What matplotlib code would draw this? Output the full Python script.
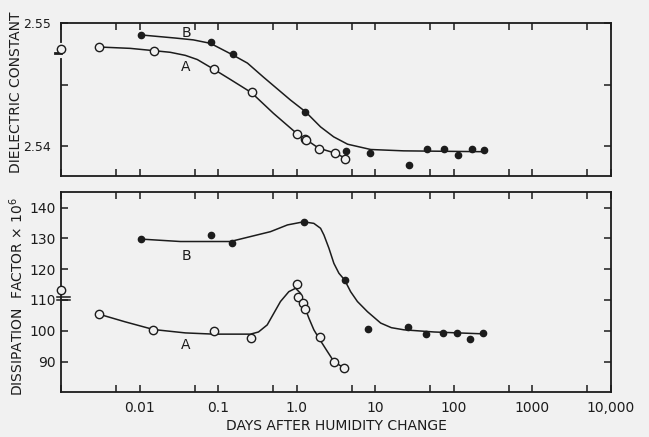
import matplotlib
matplotlib.use("Agg")
import matplotlib.pyplot as plt
from matplotlib.ticker import FixedLocator, NullFormatter

bg = "#f1f1f1"
ink = "#1c1c1c"

# dielectric constant: measured points
diel_a_days = [0.00305, 0.01535, 0.0895, 0.267, 1.02, 1.27, 1.30, 1.91, 3.06, 4.16]
diel_a_vals = [2.5481, 2.54777, 2.54625, 2.54438, 2.54098, 2.54057, 2.5405, 2.53981, 2.53945, 2.53894]
diel_b_days = [0.0105, 0.0813, 0.153, 1.27, 4.19, 8.57, 27.2, 45.3, 75.3, 112.5, 168, 241.6]
diel_b_vals = [2.54907, 2.54845, 2.54747, 2.54277, 2.53962, 2.53941, 2.53843, 2.53981,
               2.53981, 2.5393, 2.53973, 2.53967]
diel_start = 2.5479

# dielectric constant: hand-drawn curves
diel_a_curve_days = [0.00305, 0.00759, 0.01535, 0.02455, 0.0382, 0.0543, 0.0869, 0.143,
                     0.265, 0.506, 1.023, 1.294, 1.90, 3.03, 4.19]
diel_a_curve_vals = [2.54807, 2.54796, 2.54777, 2.54764, 2.54739, 2.54705, 2.54628, 2.54543,
                     2.54436, 2.54267, 2.54098, 2.54057, 2.53984, 2.53945, 2.53902]
diel_b_curve_days = [0.0105, 0.0284, 0.0483, 0.0796, 0.152, 0.236, 0.377, 0.834, 1.294,
                     2.01, 2.95, 4.44, 8.74, 23.0, 241.5]
diel_b_curve_vals = [2.54905, 2.5488, 2.54865, 2.54837, 2.54744, 2.54676, 2.54562, 2.54375,
                     2.5428, 2.54157, 2.54076, 2.54016, 2.53973, 2.53962, 2.53955]

# dissipation factor x 10^6: measured points
diss_a_days = [0.00303, 0.0150, 0.0877, 0.26, 1.01, 1.045, 1.21, 1.27, 1.95, 2.97, 3.99]
diss_a_vals = [105.4, 100.4, 100.0, 97.8, 115.1, 111.1, 109.0, 107.1, 98.0, 89.7, 87.9]
diss_b_days = [0.0103, 0.080, 0.150, 1.23, 4.07, 8.17, 26.1, 44, 73, 110, 160, 232]
diss_b_vals = [129.8, 131.1, 128.5, 135.3, 116.5, 100.5, 101.3, 99.1, 99.4, 99.4, 97.4, 99.4]
diss_start = 113.3

# dissipation factor: hand-drawn curves
diss_a_curve_days = [0.00303, 0.00655, 0.01503, 0.0382, 0.0877, 0.258, 0.326, 0.421, 0.621,
                     0.793, 0.966, 1.117, 1.233, 1.427, 1.652, 1.913, 2.45, 2.97, 3.99]
diss_a_curve_vals = [105.4, 102.9, 100.4, 99.3, 98.9, 98.9, 99.6, 101.9, 109.5,
                     112.7, 113.8, 112.2, 108.4, 104.1, 100.3, 97.6, 93.3, 90.0, 87.9]
diss_b_curve_days = [0.0102, 0.033, 0.143, 0.463, 0.764, 1.222, 1.65, 2.01, 2.22, 2.57,
                     2.97, 3.44, 4.07, 4.85, 5.92, 7.94, 11.7, 16, 23.2, 56.1, 232]
diss_b_curve_vals = [129.8, 129.0, 129.0, 132.2, 134.4, 135.4, 134.9, 133.3, 131.1, 126.8,
                     121.9, 118.7, 116.5, 112.7, 109.5, 106.2, 102.5, 101.0, 100.3, 99.6, 99.0]

major_days = [0.001, 0.01, 0.1, 1, 10, 100, 1000, 10000]
minor_days = [0.005, 0.05, 0.5, 5, 50, 500, 5000]
day_labels = ["", "0.01", "0.1", "1.0", "10", "100", "1000", "10,000"]

plt.rcParams["font.family"] = "DejaVu Sans"
plt.rcParams["font.size"] = 10

fig = plt.figure(figsize=(6.49, 4.37), dpi=100, facecolor=bg)
ax1 = fig.add_axes([0.094, 0.598, 0.8475, 0.3487], facecolor=bg)
ax2 = fig.add_axes([0.094, 0.1023, 0.8475, 0.4577], facecolor=bg)

for ax in (ax1, ax2):
    ax.set_xscale("log")
    ax.set_xlim(0.001, 10000)
    ax.xaxis.set_major_locator(FixedLocator(major_days))
    ax.xaxis.set_minor_locator(FixedLocator(minor_days))
    ax.xaxis.set_minor_formatter(NullFormatter())
    ax.tick_params(which="both", direction="in", top=True, right=True,
                   length=5, width=1.1, color=ink, labelcolor=ink)
    for s in ax.spines.values():
        s.set_linewidth(1.3)
        s.set_color(ink)

ax1.set_xticklabels([])
ax2.set_xticklabels(day_labels)
ax2.tick_params(axis="x", pad=6)

# top panel
ax1.set_ylim(2.5376, 2.55)
ax1.set_yticks([2.54, 2.545, 2.55])
ax1.set_yticklabels(["2.54", "", "2.55"])
ax1.tick_params(axis="y", pad=7, labelsize=9)
ax1.plot(diel_a_curve_days, diel_a_curve_vals, color=ink, lw=1.1, zorder=2)
ax1.plot(diel_b_curve_days, diel_b_curve_vals, color=ink, lw=1.1, zorder=2)
ax1.plot(diel_a_days, diel_a_vals, "o", ms=6, mfc=bg, mec=ink, mew=1.0, zorder=3)
ax1.plot(diel_b_days, diel_b_vals, "o", ms=4.5, color=ink, zorder=3)
ax1.text(0.039, 2.54923, "B", ha="center", va="center", color=ink)
ax1.text(0.039, 2.54646, "A", ha="center", va="center", color=ink)
# axis break with starting value
ax1.plot([0, 0], [2.5482, 2.5473], transform=ax1.get_yaxis_transform(),
         color=bg, lw=3, clip_on=False, zorder=4)
ax1.plot([-0.011, 0], [2.5476, 2.5476], transform=ax1.get_yaxis_transform(),
         color=ink, lw=2, clip_on=False, zorder=5)
ax1.plot([0.001], [diel_start], "o", ms=6, mfc=bg, mec=ink, mew=1.0,
         clip_on=False, zorder=5)

# bottom panel
ax2.set_ylim(80, 145)
ax2.set_yticks([90, 100, 110, 120, 130, 140])
ax2.tick_params(axis="y", pad=4)
ax2.plot(diss_a_curve_days, diss_a_curve_vals, color=ink, lw=1.1, zorder=2)
ax2.plot(diss_b_curve_days, diss_b_curve_vals, color=ink, lw=1.1, zorder=2)
ax2.plot(diss_a_days, diss_a_vals, "o", ms=6, mfc=bg, mec=ink, mew=1.0, zorder=3)
ax2.plot(diss_b_days, diss_b_vals, "o", ms=4.5, color=ink, zorder=3)
ax2.text(0.039, 124.4, "B", ha="center", va="center", color=ink)
ax2.text(0.039, 95.4, "A", ha="center", va="center", color=ink)
for yb in (110.0, 111.1):
    ax2.plot([-0.008, 0.016], [yb, yb], transform=ax2.get_yaxis_transform(),
             color=ink, lw=1.1, clip_on=False, zorder=5)
ax2.plot([0.001], [diss_start], "o", ms=6, mfc=bg, mec=ink, mew=1.0,
         clip_on=False, zorder=6)

ax2.set_xlabel("DAYS AFTER HUMIDITY CHANGE", color=ink, labelpad=3)
fig.text(0.025, 1 - 92 / 437, "DIELECTRIC CONSTANT", rotation=90,
         ha="center", va="center", color=ink)
fig.text(0.025, 1 - 297 / 437, r"DISSIPATION  FACTOR $\times$ 10$^6$", rotation=90,
         ha="center", va="center", color=ink)

fig.savefig("out.png", dpi=100, facecolor=bg)
